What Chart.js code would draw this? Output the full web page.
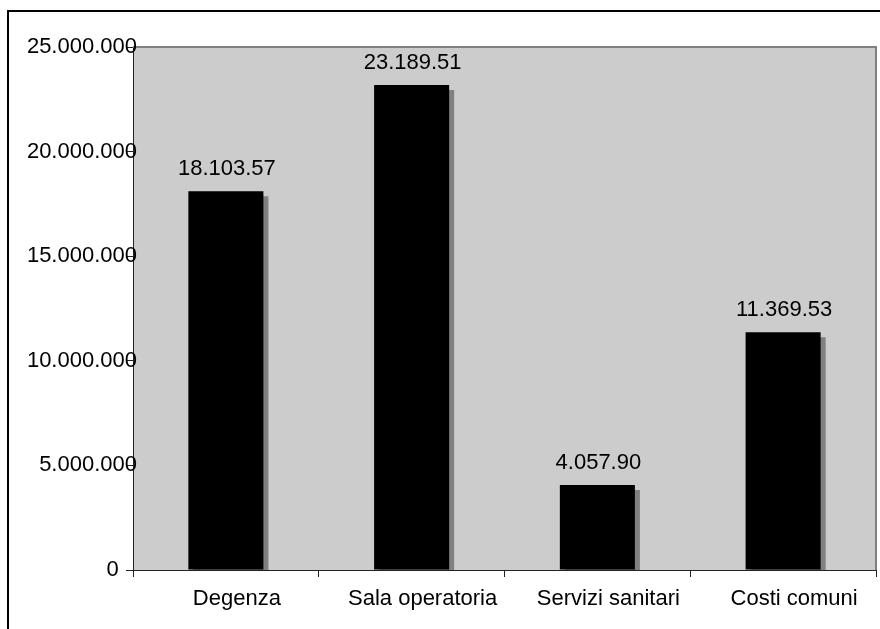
<!DOCTYPE html>
<html>
<head>
<meta charset="utf-8">
<script src="https://cdn.jsdelivr.net/npm/chart.js@4/dist/chart.umd.min.js"></script>
<style>
  html, body { margin: 0; padding: 0; background: #fff; overflow: hidden; }
  canvas { display: block; }
</style>
</head>
<body>
<canvas id="c" width="880" height="629"></canvas>
<script>
// Costs per cost centre
const categories = ['Degenza', 'Sala operatoria', 'Servizi sanitari', 'Costi comuni'];
const costs = [18103570, 23189510, 4057900, 11369530];
const yTickValues = [0, 5000000, 10000000, 15000000, 20000000, 25000000];

const FONT = '"Liberation Sans", Arial, sans-serif';

// Italian thousands separator
function dotted(n) {
  return String(Math.round(n)).replace(/\B(?=(\d{3})+(?!\d))/g, '.');
}
// value labels show the amount without its last digit
function valueLabel(n) {
  const s = dotted(n);
  return s.slice(0, -1);
}
function yLabel(v) {
  return v === 0 ? '0   ' : dotted(v);
}

const framePlugin = {
  id: 'frame',
  beforeDraw(chart) {
    const { ctx, chartArea: a } = chart;
    ctx.save();
    ctx.fillStyle = '#ffffff';
    ctx.fillRect(0, 0, chart.width, chart.height);
    // outer frame
    ctx.fillStyle = '#000000';
    ctx.fillRect(7, 10, 2, chart.height);
    ctx.fillRect(7, 10, chart.width, 2);
    // plot area
    ctx.fillStyle = '#cccccc';
    ctx.fillRect(a.left, a.top, a.right - a.left, a.bottom - a.top);
    ctx.restore();
  },
  afterDraw(chart) {
    const { ctx, chartArea: a } = chart;
    ctx.save();
    ctx.strokeStyle = '#808080';
    ctx.lineWidth = 2;
    ctx.beginPath();
    ctx.moveTo(a.left, a.top);
    ctx.lineTo(a.right, a.top);
    ctx.lineTo(a.right, a.bottom);
    ctx.stroke();

    ctx.font = '22px ' + FONT;
    ctx.fillStyle = '#000000';

    // value axis labels, right edge just past the axis line
    const ys = chart.scales.y;
    ctx.textAlign = 'right';
    ctx.textBaseline = 'middle';
    yTickValues.forEach(v => {
      ctx.fillText(yLabel(v), ys.right + 4, ys.getPixelForValue(v));
    });

    // category labels below the axis
    const xs = chart.scales.x;
    ctx.textAlign = 'center';
    ctx.textBaseline = 'alphabetic';
    categories.forEach((c, i) => {
      ctx.fillText(c, xs.getPixelForValue(i) + 11, xs.top + 35);
    });
    ctx.restore();
  }
};

const shadowPlugin = {
  id: 'barShadow',
  beforeDatasetDraw(chart) {
    const ctx = chart.ctx;
    ctx.save();
    ctx.shadowColor = '#808080';
    ctx.shadowOffsetX = 5;
    ctx.shadowOffsetY = 5;
    ctx.shadowBlur = 0;
  },
  afterDatasetDraw(chart) {
    chart.ctx.restore();
  }
};

const valueLabelPlugin = {
  id: 'valueLabels',
  afterDatasetsDraw(chart) {
    const { ctx } = chart;
    const meta = chart.getDatasetMeta(0);
    const data = chart.data.datasets[0].data;
    ctx.save();
    ctx.font = '22px ' + FONT;
    ctx.fillStyle = '#000000';
    ctx.textAlign = 'center';
    ctx.textBaseline = 'alphabetic';
    meta.data.forEach((bar, i) => {
      ctx.fillText(valueLabel(data[i]), bar.x + 1, bar.y - 16);
    });
    ctx.restore();
  }
};

new Chart(document.getElementById('c'), {
  type: 'bar',
  data: {
    labels: categories,
    datasets: [{
      data: costs,
      backgroundColor: '#000000',
      borderWidth: 0,
      categoryPercentage: 1,
      barPercentage: 0.404
    }]
  },
  options: {
    responsive: false,
    animation: false,
    layout: { padding: { top: 47, right: 4, left: 0, bottom: 0 } },
    plugins: { legend: { display: false }, tooltip: { enabled: false } },
    scales: {
      x: {
        grid: { display: true, drawOnChartArea: false, drawTicks: true, tickLength: 7, color: '#222222', offset: true },
        border: { display: true, color: '#222222', width: 1, z: 1 },
        ticks: { display: false },
        afterFit(s) { s.height = 59; }
      },
      y: {
        min: 0,
        max: 25000000,
        afterBuildTicks(s) { s.ticks = yTickValues.map(v => ({ value: v })); },
        grid: { display: true, drawOnChartArea: false, drawTicks: true, tickLength: 7, color: '#222222' },
        border: { display: true, color: '#222222', width: 1, z: 1 },
        ticks: { display: false },
        afterFit(s) { s.width = 133; }
      }
    }
  },
  plugins: [framePlugin, shadowPlugin, valueLabelPlugin]
});
</script>
</body>
</html>
